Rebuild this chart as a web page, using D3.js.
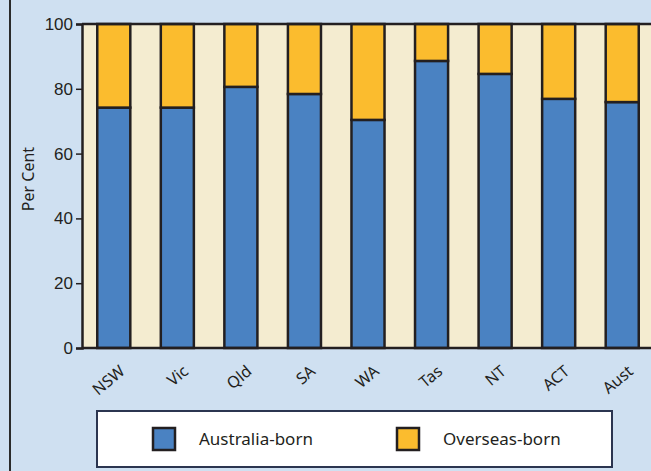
<!DOCTYPE html>
<html>
<head>
<meta charset="utf-8">
<script src="https://cdn.jsdelivr.net/npm/d3@7"></script>
<style>
  body { margin: 0; background: #cfe0f1; }
  svg { display: block; font-family: "Noto Sans", "Open Sans", sans-serif; }
</style>
</head>
<body>
<div id="chart"></div>
<script>
  const states = ["NSW", "Vic", "Qld", "SA", "WA", "Tas", "NT", "ACT", "Aust"];
  const australiaBorn = [74.2, 74.2, 80.6, 78.4, 70.4, 88.6, 84.6, 76.9, 75.9];
  const overseasBorn = [25.8, 25.8, 19.4, 21.6, 29.6, 11.4, 15.4, 23.1, 24.1];
  const yTicks = [0, 20, 40, 60, 80, 100];
  const seriesNames = ["Australia-born", "Overseas-born"];

  const W = 651, H = 471;
  const plot = { left: 82, right: 654, top: 24, bottom: 348 };
  const stroke = "#231f20";
  const color = d3.scaleOrdinal().domain(seriesNames).range(["#4a82c2", "#fbbc2e"]);

  const svg = d3.select("#chart").append("svg")
    .attr("width", W)
    .attr("height", H);

  // outer frame
  svg.append("rect")
    .attr("x", 10).attr("y", -5)
    .attr("width", W + 20).attr("height", H + 10)
    .attr("fill", "#cfe0f1")
    .attr("stroke", "#2b2b2b")
    .attr("stroke-width", 2);

  const x = d3.scaleBand().domain(states)
    .range([plot.left, plot.right])
    .paddingInner(0.48).paddingOuter(0.24);
  const y = d3.scaleLinear().domain([0, 100]).range([plot.bottom, plot.top]);

  svg.append("rect")
    .attr("x", plot.left).attr("y", plot.top)
    .attr("width", plot.right - plot.left).attr("height", plot.bottom - plot.top)
    .attr("fill", "#f4ecd0");

  const rows = states.map((s, i) => ({ key: s, a: australiaBorn[i], o: overseasBorn[i] }));
  const stack = d3.stack().keys(["a", "o"])(rows);

  stack.forEach((layer, li) => {
    svg.append("g").selectAll("rect")
      .data(layer)
      .enter().append("rect")
        .attr("x", d => x(d.data.key))
        .attr("y", d => y(d[1]))
        .attr("width", x.bandwidth())
        .attr("height", d => y(d[0]) - y(d[1]))
        .attr("fill", color(seriesNames[li]))
        .attr("stroke", stroke)
        .attr("stroke-width", 2.5);
  });

  // axes frame lines
  svg.append("line")
    .attr("x1", plot.left).attr("x2", plot.right)
    .attr("y1", plot.top).attr("y2", plot.top)
    .attr("stroke", stroke).attr("stroke-width", 2.5);
  svg.append("line")
    .attr("x1", plot.left).attr("x2", plot.right)
    .attr("y1", plot.bottom).attr("y2", plot.bottom)
    .attr("stroke", stroke).attr("stroke-width", 2.5);

  const yAxis = svg.append("g")
    .attr("transform", `translate(${plot.left}, 0)`)
    .call(d3.axisLeft(y).tickValues(yTicks).tickSize(6).tickPadding(3));
  yAxis.select(".domain").attr("stroke", stroke).attr("stroke-width", 2.5);
  yAxis.selectAll(".tick line").attr("stroke", stroke).attr("stroke-width", 1.5);
  yAxis.selectAll(".tick text")
    .attr("fill", "#231f20")
    .style("font-size", "17px");

  svg.append("text")
    .attr("transform", `translate(34, 179) rotate(-90)`)
    .attr("text-anchor", "middle")
    .attr("fill", "#231f20")
    .style("font-size", "16px")
    .text("Per Cent");

  svg.append("g").selectAll("text")
    .data(states)
    .enter().append("text")
      .attr("transform", d => `translate(${x(d) + x.bandwidth() / 2 + 12}, ${plot.bottom + 25}) rotate(-40)`)
      .attr("text-anchor", "end")
      .attr("fill", "#231f20")
      .style("font-size", "16px")
      .text(d => d);

  // legend
  const legend = svg.append("g");
  legend.append("rect")
    .attr("x", 97).attr("y", 411)
    .attr("width", 515).attr("height", 56)
    .attr("fill", "#ffffff")
    .attr("stroke", "#2b3550")
    .attr("stroke-width", 2);

  const items = legend.selectAll("g.item")
    .data(seriesNames)
    .enter().append("g")
      .attr("class", "item")
      .attr("transform", (d, i) => `translate(${153 + i * 244}, 428)`);
  items.append("rect")
    .attr("width", 22).attr("height", 22)
    .attr("fill", d => color(d))
    .attr("stroke", stroke)
    .attr("stroke-width", 2.5);
  items.append("text")
    .attr("x", 46).attr("y", 11)
    .attr("dy", "0.35em")
    .attr("fill", "#231f20")
    .style("font-size", "17px")
    .text(d => d);
</script>
</body>
</html>
